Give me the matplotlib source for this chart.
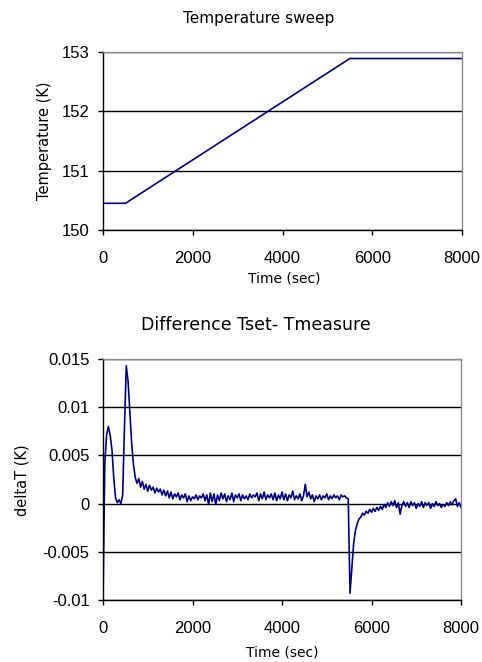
import numpy as np
import matplotlib
matplotlib.use("Agg")
import matplotlib.pyplot as plt
from matplotlib.ticker import FuncFormatter

plt.rcParams['axes.unicode_minus'] = False

# ---- data ----
sweep_time = [0, 500, 5500, 8000]
sweep_temp = [150.45, 150.45, 152.89, 152.89]

dt_step = 40  # seconds between samples
delta_T = [
    -0.0100, 0.0042, 0.0071, 0.0080, 0.0071, 0.0056, 0.0027, 0.0006, 0.0001, 0.0004,
    0.0000, 0.0009, 0.0080, 0.0143, 0.0127, 0.0094, 0.0063, 0.0041, 0.0027, 0.0021,
    0.0026, 0.0017, 0.0023, 0.0015, 0.0020, 0.0013, 0.0019, 0.0014, 0.0017, 0.0011,
    0.0016, 0.0012, 0.0015, 0.0009, 0.0014, 0.0008, 0.0013, 0.0006, 0.0012, 0.0005,
    0.0010, 0.0007, 0.0011, 0.0004, 0.0009, 0.0006, 0.0010, 0.0002, 0.0008, 0.0003,
    0.0007, 0.0005, 0.0009, 0.0004, 0.0008, 0.0006, 0.0010, 0.0003, 0.0009, -0.0001,
    0.0011, 0.0002, 0.0010, -0.0001, 0.0009, 0.0003, 0.0011, 0.0005, 0.0010, 0.0002,
    0.0008, 0.0004, 0.0011, 0.0002, 0.0009, 0.0006, 0.0010, 0.0003, 0.0009, 0.0005,
    0.0008, 0.0004, 0.0010, 0.0006, 0.0009, 0.0007, 0.0011, 0.0003, 0.0010, 0.0005,
    0.0012, 0.0004, 0.0009, 0.0006, 0.0010, 0.0004, 0.0011, 0.0003, 0.0009, 0.0005,
    0.0012, 0.0004, 0.0010, 0.0003, 0.0009, 0.0006, 0.0013, 0.0004, 0.0008, 0.0005,
    0.0010, 0.0003, 0.0008, 0.0020, 0.0007, 0.0012, 0.0005, 0.0009, 0.0002, 0.0008,
    0.0005, 0.0009, 0.0004, 0.0008, 0.0006, 0.0010, 0.0004, 0.0008, 0.0005, 0.0009,
    0.0006, 0.0008, 0.0004, 0.0009, 0.0007, 0.0008, 0.0006, 0.0005, -0.0093, -0.0068,
    -0.0042, -0.0028, -0.0021, -0.0016, -0.0014, -0.0010, -0.0012, -0.0008, -0.0010, -0.0006,
    -0.0009, -0.0005, -0.0008, -0.0004, -0.0007, -0.0003, -0.0006, -0.0001, -0.0004, 0.0001,
    -0.0003, 0.0002, -0.0002, 0.0003, -0.0004, 0.0001, -0.0011, -0.0002, 0.0002, -0.0003,
    0.0001, -0.0004, 0.0002, -0.0002, 0.0001, -0.0005, 0.0000, -0.0003, 0.0002, -0.0004,
    0.0001, -0.0002, 0.0001, -0.0005, 0.0000, -0.0003, 0.0002, -0.0002, 0.0000, -0.0004,
    -0.0001, -0.0003, 0.0001, -0.0002, 0.0002, -0.0001, 0.0003, 0.0005, -0.0003, 0.0001,
    -0.0004,
]
delta_time = np.arange(len(delta_T)) * dt_step

x_ticks = [0, 2000, 4000, 6000, 8000]
temp_ticks = [150, 151, 152, 153]
delta_ticks = [-0.01, -0.005, 0, 0.005, 0.01, 0.015]

W, H = 482, 662
fig = plt.figure(figsize=(W / 100, H / 100), dpi=100)

label_font = 'DejaVu Sans'
tick_font = 'Liberation Sans'
line_color = '#000080'


def style_axes(ax):
    ax.spines['left'].set_color('black')
    ax.spines['bottom'].set_color('black')
    ax.spines['top'].set_color('#8c8c8c')
    ax.spines['right'].set_color('#8c8c8c')
    for s in ax.spines.values():
        s.set_linewidth(1.0)
    ax.tick_params(axis='both', direction='out', length=3.6, width=1.0,
                   labelsize=12, color='black')
    ax.tick_params(axis='x', pad=11.5)
    ax.tick_params(axis='y', pad=6)
    for lab in ax.get_xticklabels() + ax.get_yticklabels():
        lab.set_fontfamily(tick_font)
    ax.yaxis.grid(True, color='black', linewidth=1.0)
    ax.set_axisbelow(True)


def fig_rect(l, t, r, b):
    return [l / W, 1 - b / H, (r - l) / W, (b - t) / H]


# ---- top chart ----
ax1 = fig.add_axes(fig_rect(103, 52, 462, 230))
ax1.plot(sweep_time, sweep_temp, color=line_color, linewidth=1.2)
ax1.set_xlim(0, 8000)
ax1.set_ylim(150, 153)
ax1.set_xticks(x_ticks)
ax1.set_yticks(temp_ticks)
style_axes(ax1)

fig.text(259 / W, 1 - 19 / H, 'Temperature sweep', ha='center', va='center',
         fontsize=11, fontfamily=label_font)
fig.text(45 / W, 1 - 141 / H, 'Temperature (K)', ha='center', va='center',
         rotation=90, fontsize=10.5, fontfamily=label_font)
fig.text(284 / W, 1 - 279 / H, 'Time (sec)', ha='center', va='center',
         fontsize=10, fontfamily=label_font)

# ---- bottom chart ----
ax2 = fig.add_axes(fig_rect(103, 359, 461, 600))
ax2.plot(delta_time, delta_T, color=line_color, linewidth=1.2)
ax2.set_xlim(0, 8000)
ax2.set_ylim(-0.01, 0.015)
ax2.set_xticks(x_ticks)
ax2.set_yticks(delta_ticks)
ax2.yaxis.set_major_formatter(FuncFormatter(lambda v, p: '0' if abs(v) < 1e-12 else ('%g' % v)))
style_axes(ax2)

fig.text(256 / W, 1 - 325 / H, 'Difference Tset- Tmeasure', ha='center', va='center',
         fontsize=12.5, fontfamily=label_font)
fig.text(22 / W, 1 - 480 / H, 'deltaT (K)', ha='center', va='center',
         rotation=90, fontsize=10.5, fontfamily=label_font)
fig.text(282 / W, 1 - 653 / H, 'Time (sec)', ha='center', va='center',
         fontsize=10, fontfamily=label_font)

fig.savefig('out.png', dpi=100)
